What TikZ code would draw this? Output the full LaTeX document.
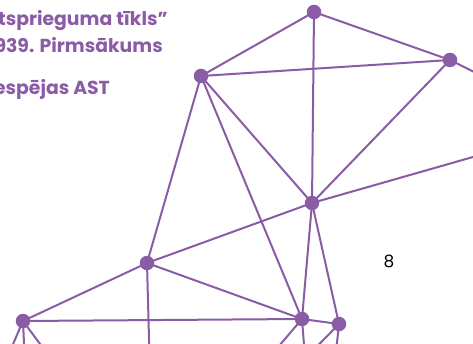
\documentclass[tikz,border=0pt]{standalone}
\usepackage{fontspec}
\setmainfont{Poppins}
\definecolor{netpurple}{RGB}{139,92,166}
\tikzset{
  link/.style={draw=netpurple, line width=2pt},
  dot/.style={circle, fill=netpurple, inner sep=0pt, minimum size=14.5pt},
  ttl/.style={text=netpurple, font=\fontsize{18.8}{23}\selectfont\bfseries, inner sep=0pt, anchor=base east},
}
\begin{document}
\begin{tikzpicture}[x=1pt,y=-1pt]
\clip (0,0) rectangle (473,344);
\fill[white] (0,0) rectangle (473,344);
% titles
\node[ttl] (t1) at (168,26) {tsprieguma tīkls”};
\node[ttl] (t2) at (163,53) {939. Pirmsākums};
\node[ttl] (t3) at (110,95) {espējas AST};
\node[inner sep=0pt, anchor=base, font=\fontsize{17}{20}\selectfont] (num) at (389,267) {8};
% node positions
\coordinate (A) at (314,12);
\coordinate (B) at (450,60);
\coordinate (C) at (201,76);
\coordinate (D) at (312,203);
\coordinate (E) at (147,263);
\coordinate (F) at (23,321);
\coordinate (G) at (302,319);
\coordinate (H) at (339,324);
% free ends
\coordinate (rB) at (480,75);
\coordinate (rD) at (480,155);
\coordinate (bE) at (149.3,350);
\coordinate (bF1) at (10.5,350);
\coordinate (bF2) at (24.3,350);
\coordinate (bF3) at (44.5,350);
\coordinate (bG1) at (275.6,350);
\coordinate (bG2) at (304.4,350);
\coordinate (bH1) at (313.5,350);
\coordinate (bH2) at (336.2,350);
% connectors
\draw[link] (A) -- (C);
\draw[link] (A) -- (B);
\draw[link] (A) -- (D);
\draw[link] (C) -- (B);
\draw[link] (B) -- (D);
\draw[link] (B) -- (rB);
\draw[link] (D) -- (rD);
\draw[link] (C) -- (D);
\draw[link] (C) -- (E);
\draw[link] (C) -- (G);
\draw[link] (D) -- (E);
\draw[link] (D) -- (G);
\draw[link] (D) -- (H);
\draw[link] (E) -- (F);
\draw[link] (E) -- (G);
\draw[link] (E) -- (bE);
\draw[link] (F) -- (G);
\draw[link] (F) -- (bF1);
\draw[link] (F) -- (bF2);
\draw[link] (F) -- (bF3);
\draw[link] (G) -- (H);
\draw[link] (G) -- (bG1);
\draw[link] (G) -- (bG2);
\draw[link] (H) -- (bH1);
\draw[link] (H) -- (bH2);
% dots
\foreach \p in {A,B,C,D,E,F,G,H} \node[dot] (dot\p) at (\p) {};
\end{tikzpicture}
\end{document}
